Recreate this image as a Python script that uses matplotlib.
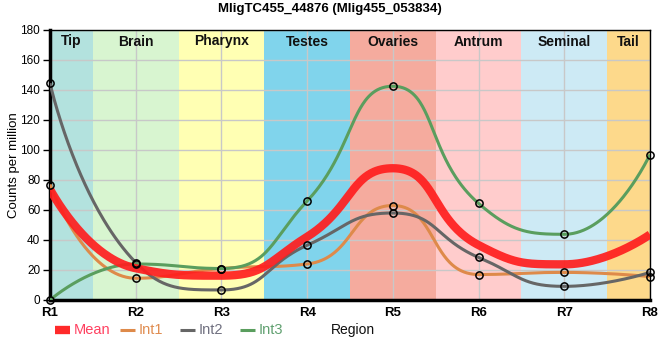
import numpy as np
import matplotlib
matplotlib.use("Agg")
import matplotlib.pyplot as plt
from matplotlib.lines import Line2D

plt.rcParams['font.family'] = ['Liberation Sans', 'DejaVu Sans']

regions = ["R1", "R2", "R3", "R4", "R5", "R6", "R7", "R8"]
int1 = [77, 14.5, 21, 24, 63, 17, 18.4, 15.6]
int2 = [144.5, 25, 6.7, 36.5, 58, 28.4, 9.1, 18.4]
int3 = [0, 24, 21, 66, 142.5, 64.4, 43.8, 97]
mean = [(a + b + c) / 3 for a, b, c in zip(int1, int2, int3)]

tissues = ["Tip", "Brain", "Pharynx", "Testes", "Ovaries", "Antrum", "Seminal", "Tail"]
tissue_colors = ["#b3e2de", "#d8f5d0", "#ffffb3", "#80d4ec", "#f5ab9e", "#ffcccc", "#cdeaf5", "#fdd98b"]

title = "MligTC455_44876 (Mlig455_053834)"

W, H = 660, 360
AX_L, AX_R, AX_T, AX_B = 50, 650, 30, 300
XSCALE = (AX_R - AX_L) / (len(regions) - 1)
YSCALE = (AX_B - AX_T) / 180.0


def smooth_curve(vals, smooth=0.5, n=80):
    """Bezier smoothing in pixel space (line-chart style with clamped control points)."""
    pts = [(i * XSCALE, v * YSCALE) for i, v in enumerate(vals)]
    N = len(pts)
    segs = []
    cpx0 = cpy0 = None
    prevX = prevY = None
    for k in range(N):
        x, y = pts[k]
        if k == 0:
            cpx0, cpy0 = x, y
        else:
            if k + 1 >= N:
                ncx0, ncy0 = x, y
                cpx1, cpy1 = x, y
            else:
                nextX, nextY = pts[k + 1]
                vx = nextX - prevX
                vy = nextY - prevY
                lp = np.hypot(x - prevX, y - prevY)
                ln = np.hypot(nextX - x, nextY - y)
                r = ln / (ln + lp)
                cpx1 = x + vx * smooth * r
                cpy1 = y + vy * smooth * r
                cpx1 = min(cpx1, max(nextX, x)); cpy1 = min(cpy1, max(nextY, y))
                cpx1 = max(cpx1, min(nextX, x)); cpy1 = max(cpy1, min(nextY, y))
                vx = cpx1 - x; vy = cpy1 - y
                ncx0 = x - vx * lp / ln
                ncy0 = y - vy * lp / ln
                ncx0 = min(ncx0, max(prevX, x)); ncy0 = min(ncy0, max(prevY, y))
                ncx0 = max(ncx0, min(prevX, x)); ncy0 = max(ncy0, min(prevY, y))
                vx = x - ncx0; vy = y - ncy0
                cpx1 = x + vx * ln / lp
                cpy1 = y + vy * ln / lp
            segs.append(((prevX, prevY), (cpx0, cpy0), (ncx0, ncy0), (x, y)))
            cpx0, cpy0 = cpx1, cpy1
        prevX, prevY = x, y
    t = np.linspace(0, 1, n)[:, None]
    out = []
    for p0, p1, p2, p3 in segs:
        p0, p1, p2, p3 = map(np.array, (p0, p1, p2, p3))
        b = ((1 - t) ** 3) * p0 + 3 * ((1 - t) ** 2) * t * p1 + 3 * (1 - t) * t ** 2 * p2 + t ** 3 * p3
        out.append(b)
    arr = np.vstack(out)
    return arr[:, 0] / XSCALE, arr[:, 1] / YSCALE


fig = plt.figure(figsize=(6.6, 3.6), dpi=100)
ax = fig.add_axes([AX_L / W, 1 - AX_B / H, (AX_R - AX_L) / W, (AX_B - AX_T) / H])

x = np.arange(len(regions))
for i, (name, col) in enumerate(zip(tissues, tissue_colors)):
    lo = max(i - 0.5, 0)
    hi = min(i + 0.5, len(regions) - 1)
    ax.axvspan(lo, hi, color=col, zorder=0, lw=0)
    ax.text((lo + hi) / 2, 177, name, ha="center", va="top", fontsize=10,
            fontweight="bold", color="#111111", zorder=5)

ax.set_xlim(0, len(regions) - 1)
ax.set_ylim(0, 180)
ax.set_yticks(np.arange(0, 181, 20))
ax.set_xticks(x)
ax.set_xticklabels(regions, fontweight="bold", fontsize=9.5)
ax.tick_params(axis="y", labelsize=8.5, length=5, width=1, pad=2)
ax.tick_params(axis="x", length=0, pad=5)
ax.grid(True, color="#c8c8c8", lw=1, zorder=1)
ax.set_axisbelow(True)

series = [
    ("Int1", int1, "#de8a4a"),
    ("Int2", int2, "#666666"),
    ("Int3", int3, "#5a9e5e"),
]
for name, vals, col in series:
    X, Y = smooth_curve(vals)
    ax.plot(X, Y, color=col, lw=2.2, zorder=3, solid_capstyle="butt")
X, Y = smooth_curve(mean)
ax.plot(X, Y, color="#ff1e1e", lw=6, alpha=0.92, zorder=4, solid_capstyle="butt")
for name, vals, col in series:
    ax.plot(x, vals, ls="none", marker="o", ms=5.2, mfc="none", mec="black",
            mew=1.1, zorder=6, clip_on=False)

for sp in ["top", "right"]:
    ax.spines[sp].set_linewidth(1)
for sp in ["left", "bottom"]:
    ax.spines[sp].set_linewidth(2.5)

fig.text(14 / W, 1 - 165 / H, "Counts per million", rotation=90, fontsize=9.5,
         ha="center", va="center")
fig.text(0.5, 1 - 9 / H, title, fontsize=9.5, fontweight="bold", ha="center", va="center")

# legend drawn in pixel coordinates
lax = fig.add_axes([0, 0, 1, 1], zorder=10)
lax.set_xlim(0, W)
lax.set_ylim(H, 0)
lax.axis("off")
ly = 330
legend_items = [
    ("Mean", "#ff2a2a", "#ff4060", 6, 55, 70, 74),
    ("Int1", "#de8a4a", "#e08c50", 2.2, 120, 135, 139),
    ("Int2", "#666666", "#707080", 2.2, 180, 195, 199),
    ("Int3", "#5a9e5e", "#60a070", 2.2, 240, 255, 259),
]
for label, lc, tc, lw, x0, x1, tx in legend_items:
    lax.plot([x0, x1], [ly, ly], color=lc, lw=lw, solid_capstyle="butt")
    lax.text(tx, ly, label, color=tc, fontsize=10.5, va="center", ha="left")
lax.text(331, ly, "Region", color="#111111", fontsize=10, va="center", ha="left")

fig.savefig("out.png", dpi=100)
